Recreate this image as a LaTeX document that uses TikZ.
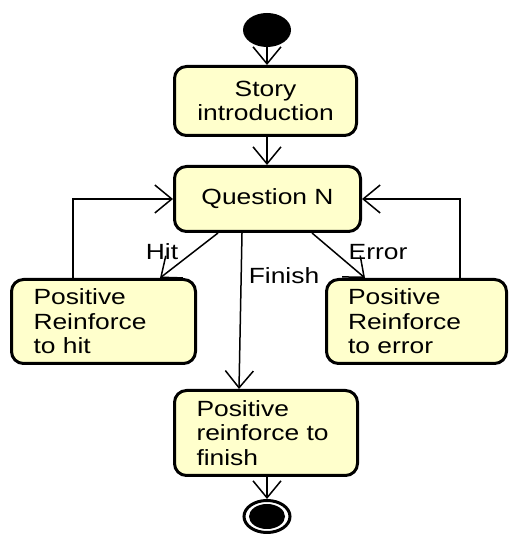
\documentclass[tikz,border=0pt]{standalone}
\usepackage{fontspec}
\setmainfont{Liberation Sans}[FakeStretch=1.2]
\usetikzlibrary{arrows.meta,shapes.geometric,calc}
\definecolor{boxfill}{RGB}{255,255,204}
\begin{document}
\begin{tikzpicture}[x=1pt,y=1pt,
  act/.style={draw=black, line width=3pt, fill=boxfill, rounded corners=12pt,
    font=\fontsize{22}{24.5}\selectfont, inner sep=0pt, align=center},
  actl/.style={act, align=left, inner ysep=0pt},
  flow/.style={draw=black, line width=1.5pt,
    -{Straight Barb[length=17pt,width=28pt,line width=1.5pt]}},
  lbl/.style={font=\fontsize{22}{24}\selectfont, inner sep=0pt}]
\useasboundingbox (0,0) rectangle (509,534);
\node[ellipse, fill=black, minimum width=48pt, minimum height=34pt, inner sep=0pt] (start) at (267,504) {};
\node[act, minimum width=182pt, minimum height=69pt] (story) at (265.5,433) {Story\\introduction};
\node[act, minimum width=186pt, minimum height=65pt] (q) at (267.5,335) {Question N};
\node[actl, text width=140pt, inner xsep=22pt, minimum height=84pt] (hit) at (103.5,212.5) {Positive\\Reinforce\\to hit};
\node[actl, text width=137pt, inner xsep=21.5pt, minimum height=84pt] (err) at (416.5,212.5) {Positive\\Reinforce\\to error};
\node[actl, text width=139pt, inner xsep=22pt, minimum height=85pt] (fin) at (266,101) {Positive\\reinforce to\\finish};
\node[ellipse, draw=black, line width=3pt, minimum width=46pt, minimum height=32pt, inner sep=0pt] (end) at (267,17.5) {};
\node[ellipse, fill=black, minimum width=36pt, minimum height=25pt, inner sep=0pt] (endin) at (end.center) {};

\draw[flow] (start.south) -- (start.south |- story.north);
\draw[flow] (267,0 |- story.south) -- (267,0 |- q.north);
\draw[flow] (218,0 |- q.south) -- (160,0 |- hit.north);
\draw[flow] (312,0 |- q.south) -- (365,0 |- err.north);
\draw[flow] (242,0 |- q.south) -- (239,0 |- fin.north);
\draw[flow] (267,0 |- fin.south) -- (end.north);
\draw[flow] (73,0 |- hit.north) |- (q.west);
\draw[flow] (460,0 |- err.north) |- (q.east);

\node[lbl] (lhit) at (162,282) {Hit};
\node[lbl] (lerr) at (378,282) {Error};
\node[lbl] (lfin) at (284,258) {Finish};
\end{tikzpicture}
\end{document}
